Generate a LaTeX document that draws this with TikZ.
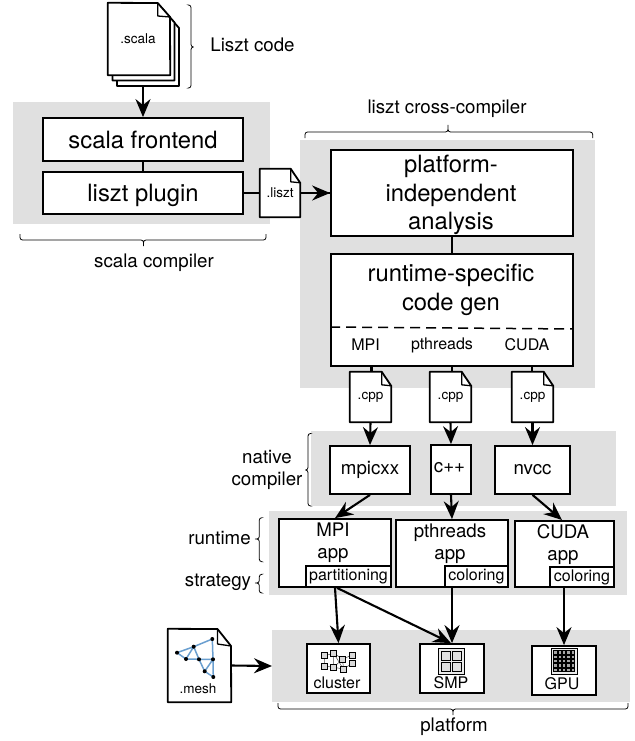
\documentclass[tikz,border=0pt]{standalone}
\usepackage{fontspec}
\setmainfont{TeX Gyre Heros}
\usetikzlibrary{arrows.meta}

\definecolor{meshblue}{HTML}{6A9FD0}

\tikzset{
  panel/.style={fill=black!12},
  block/.style={draw,line width=1.8pt,fill=white,inner sep=0pt,align=center},
  sheet/.style={line width=1.8pt,fill=white,line join=round},
  fold/.style={line width=1.3pt,line join=round},
  flow/.style={line width=2.1pt,-{Stealth[length=18pt,width=15pt,inset=6pt]}},
  link/.style={line width=2.1pt},
  curly/.style={line width=0.8pt,rounded corners=2.5pt},
  small/.style={font=\fontsize{16}{18}\selectfont},
  tiny/.style={font=\fontsize{13.5}{15}\selectfont},
  medium/.style={font=\fontsize{18.7}{22}\selectfont,align=center},
  large/.style={font=\fontsize{23.8}{28.7}\selectfont,align=center}
}
% file icon: name, centre x, centre y, width, height, text
\newcommand{\docfile}[6]{
  \node [minimum width=#4pt,minimum height=#5pt,inner sep=0pt] (#1) at (#2,#3) {};
  \draw [sheet]
    (#1.north west) -- ([xshift=-9.5pt]#1.north east) -- ([yshift=-14pt]#1.north east)
    -- (#1.south east) -- (#1.south west) -- cycle;
  \draw [fold]
    ([xshift=-9.5pt]#1.north east) -- ([xshift=-9.5pt,yshift=-13pt]#1.north east) -- ([yshift=-14pt]#1.north east);
  \node [tiny] (#1label) at (#1.center) {#6};
}

\begin{document}
\begin{tikzpicture}[x=1pt,y=1pt]
  \useasboundingbox (0,0) rectangle (634,-741);

  % grey panels
  \fill [panel] (13,-102) rectangle (270,-224);
  \fill [panel] (300,-140) rectangle (595,-388);
  \fill [panel] (311,-431) rectangle (616,-506);
  \fill [panel] (269,-511) rectangle (627,-595);
  \fill [panel] (272,-630) rectangle (630,-702);

  % scala side
  \foreach \dx/\dy in {9/11,4.5/5.5} {
    \draw [sheet]
      (108+\dx,-3-\dy) -- (157.7+\dx,-3-\dy) -- (170+\dx,-17-\dy) -- (170+\dx,-75-\dy) -- (108+\dx,-75-\dy) -- cycle;
  }
  \node [minimum width=62pt,minimum height=72pt] (source) at (139,-39) {};
  \draw [sheet]
    (source.north west) -- (157.7,-3) -- (170,-17) -- (source.south east) -- (source.south west) -- cycle;
  \draw [fold] (157.7,-3) -- (157.7,-16) -- (170,-17);
  \node [tiny] (sourcelabel) at (138,-38.5) {.scala};
  \coordinate (sourcebottom) at (143,-86);

  \node [block,large,minimum width=200pt,minimum height=43pt] (frontend) at (143,-139.5) {scala frontend};
  \node [block,large,text depth=1pt,minimum width=200pt,minimum height=42pt] (plugin) at (143,-193) {liszt plugin};
  \draw [link] (frontend) -- (plugin);
  \draw [flow] (sourcebottom) -- (frontend.north);

  % cross-compiler
  \node [block,minimum width=242pt,minimum height=86pt] (analysis) at (452,-193) {};
  \node [large] (analysistext) at (451,-195) {platform-\\independent\\analysis};
  \node [block,minimum width=242pt,minimum height=112pt] (codegen) at (452,-310) {};
  \node [large] (codegentext) at (451,-290) {runtime-specific\\code gen};
  \draw [link] (analysis) -- (codegen);
  \draw [line width=1.5pt,dash pattern=on 10pt off 6pt] (codegen.west |- 0,-327) -- (codegen.east |- 0,-329);
  \node [small] (mpilabel) at (365.5,-345) {MPI};
  \node [small] (pthreadslabel) at (442,-345) {pthreads};
  \node [small] (cudalabel) at (527,-345) {CUDA};

  \draw [link] (plugin.east) -- (analysis.west |- plugin.east);
  \docfile{lisztfile}{280}{-193}{40}{48}{.liszt}
  \draw [flow] (lisztfile.east) -- (analysis.west |- lisztfile.east);

  % generated sources
  \draw [link] (371.5,-366) -- (371.5,-372);
  \draw [link] (452,-366) -- (452,-372);
  \draw [link] (532,-366) -- (532,-372);
  \docfile{mpifile}{370.5}{-397}{41}{50}{.cpp}
  \docfile{threadfile}{450.5}{-397}{41}{50}{.cpp}
  \docfile{cudafile}{532.5}{-397}{41}{50}{.cpp}

  % native compilers
  \node [block,medium,minimum width=80pt,minimum height=48pt] (mpicxx) at (370,-470) {mpicxx};
  \node [block,minimum width=40pt,minimum height=49pt] (cxx) at (451,-469.5) {};
  \node [medium] (cxxlabel) at (449.5,-468) {c++};
  \node [block,medium,minimum width=75pt,minimum height=48pt] (nvcc) at (532.5,-470) {nvcc};
  \draw [flow] (mpifile.south) -- (mpicxx.north);
  \draw [flow] (threadfile.south) -- (cxx.north);
  \draw [flow] (cudafile.south) -- (nvcc.north);

  % runtimes
  \node [block,minimum width=112pt,minimum height=68pt] (mpiapp) at (335,-553) {};
  \node [medium] (mpiapptext) at (333,-543) {MPI\\app};
  \node [block,small,minimum width=85pt,minimum height=21pt] (partitioning) at (348.5,-576.5) {partitioning};
  \node [block,minimum width=112pt,minimum height=67pt] (threadapp) at (452,-553.5) {};
  \node [medium] (threadapptext) at (450,-544) {pthreads\\app};
  \node [block,small,minimum width=63pt,minimum height=21pt] (threadcolor) at (476.5,-576.5) {coloring};
  \node [block,minimum width=99pt,minimum height=66pt] (cudaapp) at (564.5,-554) {};
  \node [medium] (cudaapptext) at (563,-545) {CUDA\\app};
  \node [block,small,minimum width=64pt,minimum height=20pt] (cudacolor) at (582,-577) {coloring};
  \draw [flow] (mpicxx.south) -- (mpiapp.north);
  \draw [flow] (cxx.south) -- (threadapp.north);
  \draw [flow] (nvcc.south) -- (562,-520);

  % platforms
  \node [block,minimum width=63pt,minimum height=49pt] (cluster) at (338.5,-668.5) {};
  \node [small] (clusterlabel) at (337,-683) {cluster};
  \node [block,minimum width=64pt,minimum height=49pt] (smp) at (452,-668.5) {};
  \node [small] (smplabel) at (451,-683) {SMP};
  \node [block,minimum width=64pt,minimum height=49pt] (gpu) at (564,-670.5) {};
  \node [small] (gpulabel) at (562,-684) {GPU};
  \draw [flow] ([xshift=-13.5pt]partitioning.south) -- (cluster.north);
  \draw [flow] ([xshift=-11.5pt]partitioning.south) -- ([xshift=-1pt]smp.north);
  \draw [flow] (threadcolor.south -| smp.north) -- (smp.north);
  \draw [flow] (cudacolor.south -| gpu.north) -- (gpu.north);

  % cluster icon
  \draw [line width=0.5pt,black!70]
    (324.3,-655.7) -- (333.7,-653.3) -- (342.7,-659) -- (352.3,-655)
    (324.3,-655.7) -- (324.3,-666) -- (333.7,-667.3) -- (343.3,-669) -- (352.3,-663.3)
    (333.7,-653.3) -- (343.3,-669) (333.7,-667.3) -- (342.7,-659) -- (343.3,-669) (333.7,-653.3) -- (333.7,-667.3);
  \foreach \px/\py in {324.3/655.7,333.7/653.3,342.7/659,352.3/655,352.3/663.3,343.3/669,333.7/667.3,324.3/666} {
    \draw [line width=0.6pt,fill=black!15] (\px-3,-\py-3) rectangle (\px+3,-\py+3);
  }
  % smp icon
  \draw [line width=0.6pt,fill=black!8] (438,-648) rectangle (464,-674);
  \foreach \px in {441,452} {
    \foreach \py in {651,662} {
      \draw [line width=0.6pt,fill=black!12] (\px,-\py) rectangle (\px+9,-\py-9);
    }
  }
  % gpu icon
  \draw [line width=0.6pt,fill=black!8] (551,-648) rectangle (577,-674);
  \foreach \px in {553.5,557.9,562.3,566.7,571.1} {
    \foreach \py in {650.5,654.9,659.3,663.7,668.1} {
      \draw [line width=0.5pt,fill=black!35] (\px,-\py) rectangle (\px+3.4,-\py-3.4);
    }
  }

  % mesh file
  \node [minimum width=63pt,minimum height=73pt,inner sep=0pt] (mesh) at (199.5,-665.5) {};
  \draw [sheet]
    (mesh.north west) -- (217.5,-629) -- (231,-646) -- (mesh.south east) -- (mesh.south west) -- cycle;
  \draw [fold] (217.5,-629) -- (217.5,-644) -- (231,-646);
  \node [tiny] (meshlabel) at (198,-689) {.mesh};
  \foreach \nm/\px/\py in {ma/177/652.7,mb/193.7/646.7,mc/212.3/639,md/186/659,me/199/659.3,mf/213/659.3,mg/204.7/671.3,mh/213.3/677} {
    \coordinate (\nm) at (\px,-\py);
  }
  \draw [line width=1.5pt,color=meshblue]
    (ma) -- (mb) -- (mc) -- (mf) -- (mh) -- (mg) -- (me) -- (mb) -- (md) -- (ma)
    (md) -- (me) -- (mf) -- (mg);
  \foreach \nm in {ma,mb,mc,md,me,mf,mg,mh} {
    \fill (\nm) circle (2pt);
  }
  \draw [flow] (mesh.east) -- (272,-666);

  % braces and their labels
  \draw [curly] (189,-5) -- (191,-5) -- (191,-47) -- (193.5,-47) (193.5,-47) -- (191,-47) -- (191,-88) -- (189,-88);
  \node [medium] (codelabel) at (252.5,-45) {Liszt code};
  \draw [curly] (20,-234) -- (20,-240) -- (143.5,-240) -- (143.5,-246) (143.5,-246) -- (143.5,-240) -- (266,-240) -- (266,-234);
  \node [medium] (scalalabel) at (154,-263) {scala compiler};
  \draw [curly] (305,-138) -- (305,-132) -- (448,-132) -- (448,-125) (448,-125) -- (448,-132) -- (592.7,-132) -- (592.7,-138);
  \node [medium] (crosslabel) at (447,-109) {liszt cross-compiler};
  \draw [curly] (310,-433.5) -- (308,-433.5) -- (308,-470) -- (305.5,-470) (305.5,-470) -- (308,-470) -- (308,-506) -- (310,-506);
  \node [medium] (nativelabel) at (267,-470) {native\\compiler};
  \draw [curly] (261.5,-517.7) -- (259.3,-517.7) -- (259.3,-539) -- (257,-539) (257,-539) -- (259.3,-539) -- (259.3,-561.7) -- (261.5,-561.7);
  \node [medium] (runtimelabel) at (219.5,-538) {runtime};
  \draw [curly] (261.5,-574.3) -- (259.3,-574.3) -- (259.3,-583) -- (257,-583) (257,-583) -- (259.3,-583) -- (259.3,-593) -- (261.5,-593);
  \node [medium] (strategylabel) at (218,-582) {strategy};
  \draw [curly] (278,-703) -- (278,-709) -- (453,-709) -- (453,-715) (453,-715) -- (453,-709) -- (628,-709) -- (628,-703);
  \node [medium] (platformlabel) at (454,-727) {platform};
\end{tikzpicture}
\end{document}
